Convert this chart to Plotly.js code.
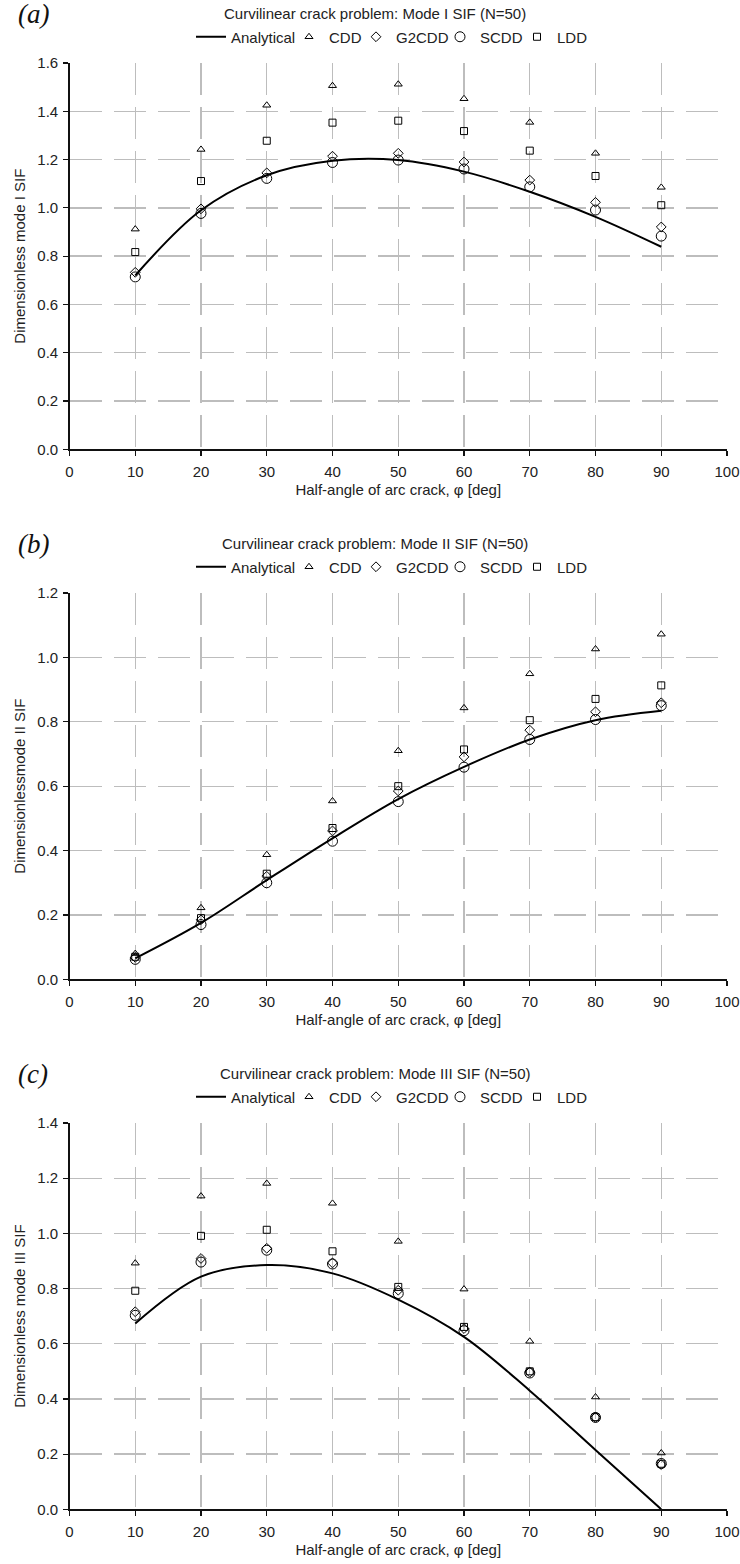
<!DOCTYPE html>
<html>
<head>
<meta charset="utf-8">
<script src="https://cdn.plot.ly/plotly-3.0.1.min.js"></script>
<style>
  html, body { margin: 0; padding: 0; background: #fff; }
  #chart { width: 740px; height: 1564px; }
</style>
</head>
<body>
<div id="chart"></div>
<script>
// ---------------- data ----------------
const angles = [10, 20, 30, 40, 50, 60, 70, 80, 90];

// Mode I
const analyticalI = [0.720, 0.990, 1.135, 1.195, 1.198, 1.150, 1.067, 0.963, 0.839];
const cddI        = [0.912, 1.242, 1.425, 1.506, 1.512, 1.452, 1.354, 1.226, 1.085];
const g2cddI      = [0.733, 0.996, 1.145, 1.214, 1.226, 1.190, 1.115, 1.023, 0.921];
const scddI       = [0.714, 0.977, 1.122, 1.188, 1.198, 1.161, 1.087, 0.991, 0.883];
const lddI        = [0.817, 1.111, 1.278, 1.353, 1.361, 1.318, 1.237, 1.132, 1.011];

// Mode II
const analyticalII = [0.065, 0.175, 0.308, 0.438, 0.560, 0.660, 0.745, 0.805, 0.834];
const cddII        = [0.080, 0.222, 0.387, 0.554, 0.710, 0.843, 0.949, 1.026, 1.072];
const g2cddII      = [0.068, 0.185, 0.320, 0.461, 0.585, 0.691, 0.774, 0.831, 0.859];
const scddII       = [0.062, 0.170, 0.300, 0.429, 0.552, 0.659, 0.745, 0.807, 0.850];
const lddII        = [0.070, 0.190, 0.328, 0.470, 0.600, 0.714, 0.805, 0.871, 0.913];

// Mode III
const analyticalIII = [0.673, 0.843, 0.885, 0.855, 0.760, 0.625, 0.430, 0.215, 0.000];
const cddIII        = [0.892, 1.135, 1.181, 1.109, 0.971, 0.798, 0.609, 0.407, 0.204];
const g2cddIII      = [0.716, 0.909, 0.946, 0.893, 0.794, 0.655, 0.497, 0.333, 0.162];
const scddIII       = [0.703, 0.896, 0.939, 0.889, 0.782, 0.647, 0.494, 0.333, 0.166];
const lddIII        = [0.792, 0.991, 1.013, 0.935, 0.806, 0.661, 0.500, 0.334, 0.165];

const panelTitles = [
  'Curvilinear crack problem: Mode I SIF (N=50)',
  'Curvilinear crack problem: Mode II SIF (N=50)',
  'Curvilinear crack problem: Mode III SIF (N=50)'
];
const panelLabels = ['(a)', '(b)', '(c)'];
const yTitles = ['Dimensionless mode I SIF', 'Dimensionlessmode II SIF', 'Dimensionless mode III SIF'];
const yMax = [1.6, 1.2, 1.4];
const xTitle = 'Half-angle of arc crack, φ [deg]';
const seriesNames = ['Analytical', 'CDD', 'G2CDD', 'SCDD', 'LDD'];

// ---------------- layout helpers ----------------
const W = 740, H = 1564;
const py = p => 1 - p / H;
const px = p => p / W;
const FONT = 'Arial, "Liberation Sans", Helvetica, sans-serif';
const plotTop = [63, 593, 1123];
const plotBot = [449.3, 979.3, 1509.3];
const xLeft = 69.5, xRight = 727;

const panels = [
  [analyticalI, cddI, g2cddI, scddI, lddI],
  [analyticalII, cddII, g2cddII, scddII, lddII],
  [analyticalIII, cddIII, g2cddIII, scddIII, lddIII]
];

const markerDefs = [
  null,
  {symbol: 'triangle-up-open', size: 7},
  {symbol: 'diamond-open', size: 7.5},
  {symbol: 'circle-open', size: 10},
  {symbol: 'square-open', size: 7}
];
const legendWidths = [53, 22, 39, 32, 30];

const traces = [];
panels.forEach((series, i) => {
  const xa = i === 0 ? 'x' : 'x' + (i + 1);
  const ya = i === 0 ? 'y' : 'y' + (i + 1);
  const lg = i === 0 ? 'legend' : 'legend' + (i + 1);
  series.forEach((vals, k) => {
    const t = {
      x: angles, y: vals, xaxis: xa, yaxis: ya, legend: lg,
      name: seriesNames[k], type: 'scatter', legendwidth: legendWidths[k],
      hoverinfo: 'x+y'
    };
    if (k === 0) {
      t.mode = 'lines';
      t.line = {color: '#000', width: 2, shape: 'spline', smoothing: 1};
    } else {
      t.mode = 'markers';
      t.marker = {symbol: markerDefs[k].symbol, size: markerDefs[k].size,
                  color: '#000', line: {color: '#000', width: 1}};
    }
    traces.push(t);
  });
});

const gridStyle = {
  showgrid: true, gridcolor: '#bdbdbd', gridwidth: 1.3, griddash: '32px,12px',
  zeroline: false, showline: true, linecolor: '#111', linewidth: 1.3,
  ticks: 'outside', ticklen: 5, tickwidth: 1.2, tickcolor: '#111',
  tickfont: {family: FONT, size: 15, color: '#222'}
};

const layout = {
  width: W, height: H,
  margin: {l: 0, r: 0, t: 0, b: 0, pad: 0},
  paper_bgcolor: '#fff', plot_bgcolor: '#fff',
  font: {family: FONT, size: 15, color: '#222'},
  annotations: []
};

for (let i = 0; i < 3; i++) {
  const sfx = i === 0 ? '' : String(i + 1);
  layout['xaxis' + sfx] = Object.assign({}, gridStyle, {
    domain: [px(xLeft), px(xRight)],
    anchor: 'y' + sfx,
    range: [0, 100], dtick: 10, tick0: 0,
    ticklabelstandoff: 3,
    automargin: false,
    title: {text: xTitle, font: {family: FONT, size: 15, color: '#222'}, standoff: 6}
  });
  layout['yaxis' + sfx] = Object.assign({}, gridStyle, {
    domain: [py(plotBot[i]), py(plotTop[i])],
    anchor: 'x' + sfx,
    range: [0, yMax[i]], dtick: 0.2, tick0: 0, tickformat: '.1f',
    ticklabelstandoff: 2,
    automargin: false,
    title: {text: yTitles[i], font: {family: FONT, size: 15, color: '#222'}, standoff: 8}
  });
  layout[i === 0 ? 'legend' : 'legend' + (i + 1)] = {
    orientation: 'h', x: px(191), xanchor: 'left',
    y: py(plotTop[i] - 26), yanchor: 'middle',
    font: {family: FONT, size: 15, color: '#222'},
    bgcolor: 'rgba(0,0,0,0)', borderwidth: 0,
    itemclick: false, itemdoubleclick: false,
    traceorder: 'normal'
  };
  layout.annotations.push({
    text: panelTitles[i], xref: 'paper', yref: 'paper',
    x: px(375), y: py(plotTop[i] - 50), xanchor: 'center', yanchor: 'middle',
    showarrow: false, font: {family: FONT, size: 15, color: '#222'}
  });
  layout.annotations.push({
    text: '<i>' + panelLabels[i] + '</i>', xref: 'paper', yref: 'paper',
    x: px(33), y: py(plotTop[i] - 49), xanchor: 'center', yanchor: 'middle',
    showarrow: false, font: {family: '"Liberation Serif", "Times New Roman", serif', size: 27, color: '#111'}
  });
}

Plotly.newPlot('chart', traces, layout, {staticPlot: true, displayModeBar: false});
</script>
</body>
</html>
